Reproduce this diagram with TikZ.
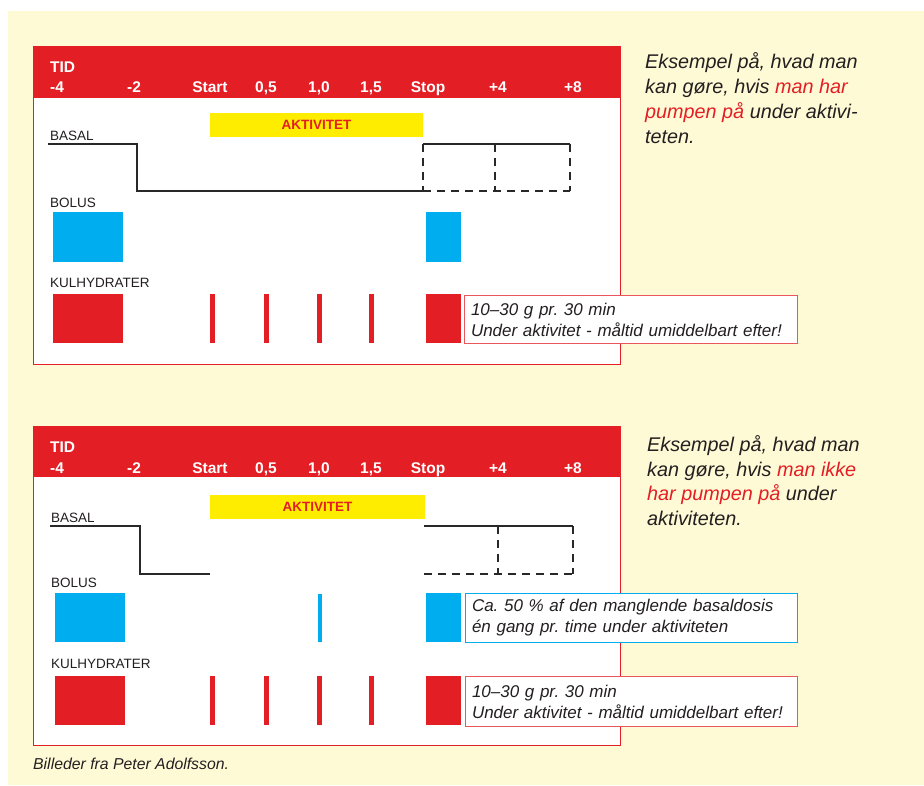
\documentclass[tikz,border=0pt]{standalone}
\usepackage{fontspec}
\setmainfont{Liberation Sans}
\definecolor{cream}{RGB}{255,250,214}
\definecolor{myred}{RGB}{227,30,36}
\definecolor{myyellow}{RGB}{255,237,0}
\definecolor{myblue}{RGB}{0,174,239}
\definecolor{calred}{RGB}{234,86,92}
\definecolor{txt}{RGB}{35,31,32}
\definecolor{linegray}{RGB}{40,40,40}
\frenchspacing
\begin{document}
\frenchspacing
\begin{tikzpicture}[x=1pt,y=-1pt,
  hdr/.style={font=\bfseries\fontsize{15.5}{17}\selectfont, text=white, inner sep=0pt, anchor=base},
  hdrl/.style={hdr, anchor=base west},
  lbl/.style={font=\fontsize{13.5}{15}\selectfont, text=txt, anchor=base west, inner sep=0pt},
  akt/.style={font=\bfseries\fontsize{13.5}{15}\selectfont, text=myred, inner sep=0pt},
  side/.style={font=\itshape\fontsize{19.8}{24}\selectfont, text=txt, anchor=base west, inner sep=0pt},
  callout/.style={draw, line width=1pt, fill=white, anchor=north west, align=left,
    font=\itshape\fontsize{17}{21}\selectfont, text=txt, inner xsep=6pt, inner ysep=0pt},
  basal/.style={draw=linegray, line width=1.4pt},
  basaldash/.style={basal, dash pattern=on 8pt off 6pt}
]
\useasboundingbox (0,0) rectangle (924,785);
\fill[white] (0,0) rectangle (924,785);
\fill[cream] (8,11) rectangle (924,785);

% ================= TOP PANEL =================
\draw[myred, line width=0.8pt, fill=white] (33,46) rectangle (620,364);
\fill[myred] (33,46) rectangle (620,98);
\node[hdrl] (t1tid) at (50,72) {TID};
\node[hdrl] (t1a) at (50,92.5) {-4};
\node[hdr] (t1b) at (134,92.5) {-2};
\node[hdr] (t1c) at (210,92.5) {Start};
\node[hdr] (t1d) at (266,92.5) {0,5};
\node[hdr] (t1e) at (319,92.5) {1,0};
\node[hdr] (t1f) at (371,92.5) {1,5};
\node[hdr] (t1g) at (428,92.5) {Stop};
\node[hdr] (t1h) at (498,92.5) {+4};
\node[hdr] (t1i) at (573,92.5) {+8};

\fill[myyellow] (210,113) rectangle (423,137);
\node[akt] (t1akt) at (316.5,125) {AKTIVITET};

\node[lbl] (t1basal) at (50,140) {BASAL};
\node[lbl] (t1bolus) at (50,207) {BOLUS};
\node[lbl] (t1kul) at (50,287) {KULHYDRATER};

\coordinate (p1) at (48,144);
\coordinate (p2) at (137,144);
\coordinate (p3) at (137,191);
\coordinate (p4) at (423,191);
\coordinate (p5) at (423,144);
\coordinate (p6) at (495,144);
\coordinate (p7) at (570,144);
\coordinate (p8) at (495,191);
\coordinate (p9) at (570,191);
\draw[basal] (p1) -- (p2) -- (p3) -- (p4);
\draw[basal] (p5) -- (p7);
\draw[basaldash] (p5) -- (p4);
\draw[basaldash] (p6) -- (p8);
\draw[basaldash] (p7) -- (p9);
\draw[basaldash] (p4) -- (p9);

\fill[myblue] (53,212) rectangle (123,262);
\fill[myblue] (426,212) rectangle (461,262);

\fill[myred] (53,294) rectangle (123,343);
\foreach \x in {212,266,319,371} \fill[myred] (\x-2.5,294) rectangle (\x+2.5,343);
\fill[myred] (426,294) rectangle (461,343);
\node[callout, draw=calred, minimum width=333pt, minimum height=48pt, text width=320pt] (t1call) at (464,295)
  {10–30 g pr. 30 min\\Under aktivitet - måltid umiddelbart efter!};

\node[side] (s1a) at (645,68) {Eksempel på, hvad man};
\node[side] (s1b) at (645,93) {kan gøre, hvis \textcolor{myred}{man har}};
\node[side] (s1c) at (645,118) {\textcolor{myred}{pumpen på} under aktivi-};
\node[side] (s1d) at (645,143) {teten.};

% ================= BOTTOM PANEL =================
\draw[myred, line width=0.8pt, fill=white] (33,426) rectangle (620,745);
\fill[myred] (33,426) rectangle (620,477);
\node[hdrl] (t2tid) at (50,452) {TID};
\node[hdrl] (t2a) at (50,473) {-4};
\node[hdr] (t2b) at (134,473) {-2};
\node[hdr] (t2c) at (210,473) {Start};
\node[hdr] (t2d) at (266,473) {0,5};
\node[hdr] (t2e) at (319,473) {1,0};
\node[hdr] (t2f) at (371,473) {1,5};
\node[hdr] (t2g) at (428,473) {Stop};
\node[hdr] (t2h) at (498,473) {+4};
\node[hdr] (t2i) at (573,473) {+8};

\fill[myyellow] (210,495) rectangle (425,519);
\node[akt] (t2akt) at (317.5,507) {AKTIVITET};

\node[lbl] (t2basal) at (51,522) {BASAL};
\node[lbl] (t2bolus) at (51,587) {BOLUS};
\node[lbl] (t2kul) at (51,668) {KULHYDRATER};

\coordinate (q1) at (50,526);
\coordinate (q2) at (140,526);
\coordinate (q3) at (140,574);
\coordinate (q4) at (210,574);
\coordinate (q5) at (424,526);
\coordinate (q6) at (498,526);
\coordinate (q7) at (573,526);
\coordinate (q8) at (424,574);
\coordinate (q9) at (498,574);
\coordinate (q10) at (573,574);
\draw[basal] (q1) -- (q2) -- (q3) -- (q4);
\draw[basal] (q5) -- (q7);
\draw[basaldash] (q6) -- (q9);
\draw[basaldash] (q7) -- (q10);
\draw[basaldash] (q8) -- (q10);

\fill[myblue] (55,593) rectangle (125,642);
\fill[myblue] (317.5,594) rectangle (321.5,642);
\fill[myblue] (426,593) rectangle (461,642);
\node[callout, draw=myblue, minimum width=332pt, minimum height=49pt, text width=319pt] (t2callb) at (465,593)
  {Ca. 50 \% af den manglende basaldosis\\én gang pr. time under aktiviteten};

\fill[myred] (55,676) rectangle (125,725);
\foreach \x in {212,266,319,371} \fill[myred] (\x-2.5,676) rectangle (\x+2.5,725);
\fill[myred] (426,676) rectangle (461,725);
\node[callout, draw=calred, minimum width=332pt, minimum height=50pt, text width=319pt] (t2callr) at (465,676)
  {10–30 g pr. 30 min\\Under aktivitet - måltid umiddelbart efter!};

\node[side] (s2a) at (647,451) {Eksempel på, hvad man};
\node[side] (s2b) at (647,476) {kan gøre, hvis \textcolor{myred}{man ikke}};
\node[side] (s2c) at (647,500) {\textcolor{myred}{har pumpen på} under};
\node[side] (s2d) at (647,525) {aktiviteten.};

\node[anchor=base west, inner sep=0pt, font=\itshape\fontsize{15.8}{17}\selectfont, text=txt] (cap) at (33,769)
  {Billeder fra Peter Adolfsson.};
\end{tikzpicture}
\end{document}
